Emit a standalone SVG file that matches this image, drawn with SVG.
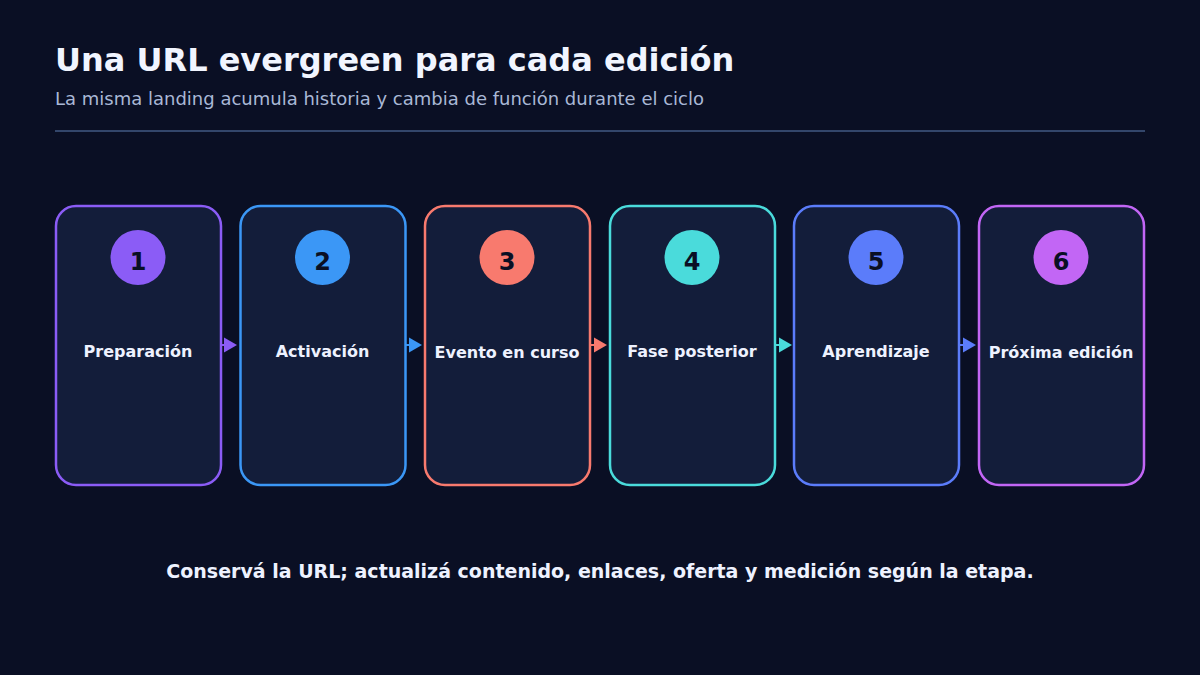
<svg xmlns="http://www.w3.org/2000/svg" width="1200" height="675" viewBox="0 0 1200 675">
<style>
.title{font-family:"DejaVu Sans",sans-serif;font-weight:bold;font-size:32px;fill:#f1f5ff}
.sub{font-family:"DejaVu Sans",sans-serif;font-size:18px;fill:#a9b8d6}
.box{fill:#131d3a;stroke-width:2.5}
.num{font-family:"DejaVu Sans",sans-serif;font-weight:bold;font-size:24px;fill:#0a0f24;text-anchor:middle}
.lbl{font-family:"DejaVu Sans",sans-serif;font-weight:bold;font-size:16px;fill:#eef2ff;text-anchor:middle}
.foot{font-family:"DejaVu Sans",sans-serif;font-weight:bold;font-size:19px;fill:#eef2ff;text-anchor:middle}
</style>
<rect width="1200" height="675" fill="#0a0f24"/>
<text class="title" x="55" y="71">Una URL evergreen para cada edición</text>
<text class="sub" x="55" y="105">La misma landing acumula historia y cambia de función durante el ciclo</text>
<line x1="55" y1="131" x2="1145" y2="131" stroke="#33466b" stroke-width="2"/>
<g id="connectors">
<path d="M221,345h4" stroke="#8b5cf6" stroke-width="2"/><polygon points="224,337.5 237,345 224,352.5" fill="#8b5cf6"/>
<path d="M406,345h4" stroke="#3b97f6" stroke-width="2"/><polygon points="409,337.5 422,345 409,352.5" fill="#3b97f6"/>
<path d="M591,345h4" stroke="#f87a6e" stroke-width="2"/><polygon points="594,337.5 607,345 594,352.5" fill="#f87a6e"/>
<path d="M776,345h4" stroke="#4adbdb" stroke-width="2"/><polygon points="779,337.5 792,345 779,352.5" fill="#4adbdb"/>
<path d="M960,345h4" stroke="#5b7cfa" stroke-width="2"/><polygon points="963,337.5 976,345 963,352.5" fill="#5b7cfa"/>
</g>
<g id="node1"><rect class="box" x="56" y="206" width="165" height="279" rx="20" stroke="#8b5cf6"/><circle cx="138" cy="257.5" r="27.5" fill="#8b5cf6"/><text class="num" x="138" y="270">1</text><text class="lbl" x="138" y="357">Preparación</text></g>
<g id="node2"><rect class="box" x="240.5" y="206" width="165" height="279" rx="20" stroke="#3b97f6"/><circle cx="322.5" cy="257.5" r="27.5" fill="#3b97f6"/><text class="num" x="322.5" y="270">2</text><text class="lbl" x="322.5" y="357">Activación</text></g>
<g id="node3"><rect class="box" x="425" y="206" width="165" height="279" rx="20" stroke="#f87a6e"/><circle cx="507" cy="257.5" r="27.5" fill="#f87a6e"/><text class="num" x="507" y="270">3</text><text class="lbl" x="507" y="358">Evento en curso</text></g>
<g id="node4"><rect class="box" x="610" y="206" width="165" height="279" rx="20" stroke="#4adbdb"/><circle cx="692" cy="257.5" r="27.5" fill="#4adbdb"/><text class="num" x="692" y="270">4</text><text class="lbl" x="692" y="357">Fase posterior</text></g>
<g id="node5"><rect class="box" x="794" y="206" width="165" height="279" rx="20" stroke="#5b7cfa"/><circle cx="876" cy="257.5" r="27.5" fill="#5b7cfa"/><text class="num" x="876" y="270">5</text><text class="lbl" x="876" y="357">Aprendizaje</text></g>
<g id="node6"><rect class="box" x="979" y="206" width="165" height="279" rx="20" stroke="#c266f5"/><circle cx="1061" cy="257.5" r="27.5" fill="#c266f5"/><text class="num" x="1061" y="270">6</text><text class="lbl" x="1061" y="358">Próxima edición</text></g>
<text class="foot" x="600" y="578">Conservá la URL; actualizá contenido, enlaces, oferta y medición según la etapa.</text>
</svg>
